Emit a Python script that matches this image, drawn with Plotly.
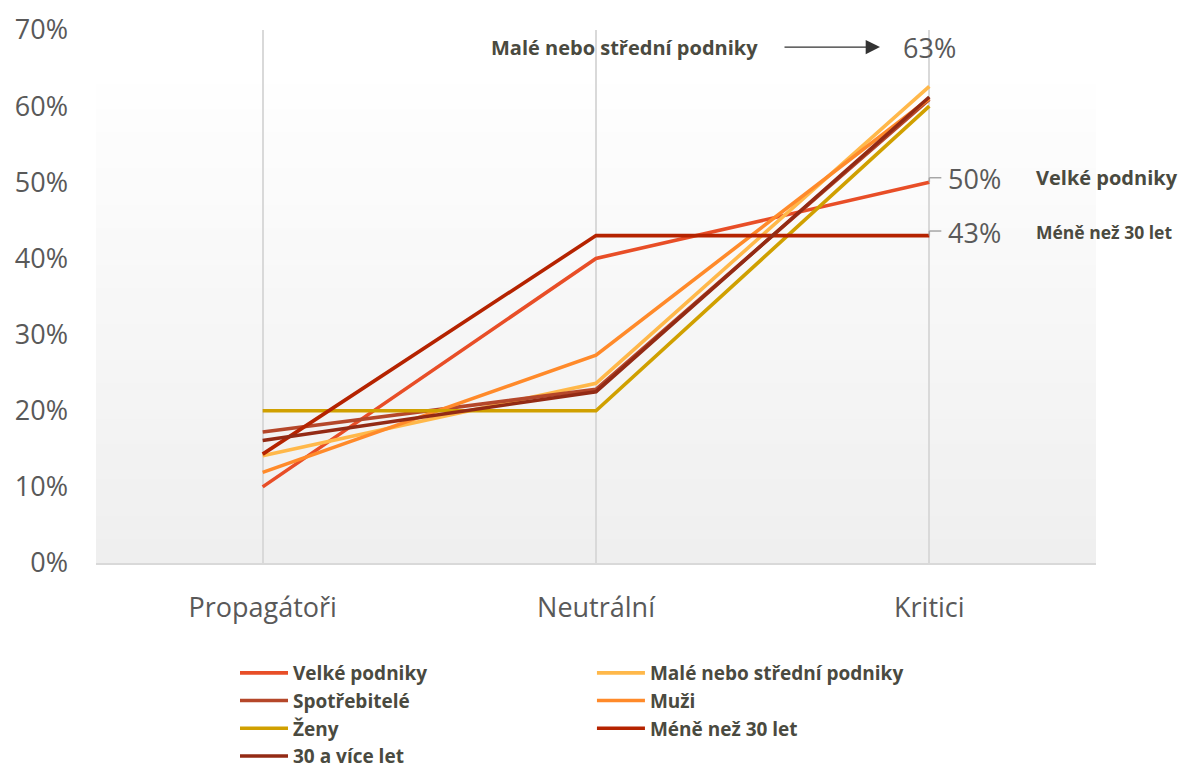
import plotly.graph_objects as go

categories = ["Propagátoři", "Neutrální", "Kritici"]
series_names = ["Velké podniky", "Malé nebo střední podniky", "Spotřebitelé", "Muži",
                "Ženy", "Méně než 30 let", "30 a více let"]
velke = [0.100, 0.400, 0.500]
male = [0.141, 0.236, 0.626]
spotrebitele = [0.172, 0.228, 0.609]
muzi = [0.119, 0.273, 0.610]
zeny = [0.200, 0.200, 0.600]
mene30 = [0.143, 0.430, 0.430]
nad30 = [0.161, 0.225, 0.612]
series_values = [velke, male, spotrebitele, muzi, zeny, mene30, nad30]
colors = ["#E84E27", "#FFB84A", "#B5472A", "#FF8A2A", "#D0A000", "#B52300", "#932A14"]
legend_ids = ["legend", "legend2", "legend", "legend2", "legend", "legend2", "legend"]
y_ticks = [0, 0.1, 0.2, 0.3, 0.4, 0.5, 0.6, 0.7]

fig = go.Figure()
for name, vals, col, lg in zip(series_names, series_values, colors, legend_ids):
    fig.add_trace(go.Scatter(x=categories, y=vals, mode="lines", name=name,
                             line=dict(color=col, width=3.6), legend=lg))

# background gradient (plot area fill)
n = 40
top = 0.897
for i in range(n):
    t = i / (n - 1)
    c = int(round(0xEF + (0xFE - 0xEF) * t))
    fig.add_shape(type="rect", xref="paper", yref="paper", x0=0, x1=1,
                  y0=top * i / n, y1=top * (i + 1) / n + 0.002,
                  fillcolor=f"rgb({c},{c},{c})", line_width=0, layer="below")

label_font = dict(family="Open Sans", size=27, color="#595959")
bold_font = dict(family="Open Sans", size=20, color="#4a4a40", weight="bold")
legend_font = dict(family="Open Sans", size=19, color="#4a4a40", weight="bold")

# right labels
for vals, name, ysh, fs in [(velke, "Velké podniky", 4, 20), (mene30, "Méně než 30 let", 3, 17.5)]:
    v = vals[2]
    fig.add_annotation(x=2, y=v, xref="x", yref="y", text=f"{v:.0%}", showarrow=False,
                       xanchor="left", yanchor="middle", xshift=17, yshift=ysh, font=label_font)
    fig.add_annotation(x=2, y=v, xref="x", yref="y", text=f"<b>{name}</b>", showarrow=False,
                       xanchor="left", yanchor="middle", xshift=105, yshift=ysh + 1,
                       font=dict(bold_font, size=fs))
    fig.add_shape(type="line", xref="x", yref="y", x0=2, x1=2, y0=v, y1=v + 0.006,
                  line=dict(color="#a6a6a6", width=1.5))
    fig.add_shape(type="line", xref="x", yref="y", x0=2, x1=2.036, y0=v + 0.006, y1=v + 0.006,
                  line=dict(color="#a6a6a6", width=1.5))

# top annotation
fig.add_annotation(x=2, y=0.968, xref="x", yref="paper", text=f"{male[2]:.0%}",
                   showarrow=False, xanchor="center", yanchor="middle", font=label_font)
fig.add_annotation(x=0.664, y=0.968, xref="paper", yref="paper", xanchor="right",
                   yanchor="middle", text="<b>Malé nebo střední podniky</b>",
                   showarrow=False, font=bold_font)
fig.add_annotation(x=0.784, y=0.968, xref="paper", yref="paper", ax=-97, ay=0,
                   text="", showarrow=True, arrowhead=2, arrowsize=2.2, arrowwidth=1.3,
                   arrowcolor="#333333")

fig.update_layout(
    width=1191, height=762,
    margin=dict(l=88, r=103, t=22, b=207, autoexpand=False),
    paper_bgcolor="white", plot_bgcolor="rgba(0,0,0,0)",
    font=dict(family="Open Sans", color="#595959"),
    legend=dict(x=0.1906, y=0.1522, xref="container", yref="container",
                xanchor="left", yanchor="top", font=legend_font, itemwidth=48,
                bgcolor="rgba(0,0,0,0)", tracegroupgap=0),
    legend2=dict(x=0.4903, y=0.1522, xref="container", yref="container",
                 xanchor="left", yanchor="top", font=legend_font, itemwidth=48,
                 bgcolor="rgba(0,0,0,0)", tracegroupgap=0),
    showlegend=True,
)
fig.update_xaxes(type="category", range=[-0.5, 2.5], showgrid=True, gridcolor="#d9d9d9",
                 gridwidth=1.5, showline=True, linecolor="#d9d9d9", linewidth=2,
                 ticks="", tickfont=dict(family="Open Sans", size=27, color="#595959"),
                 ticklabelstandoff=20, zeroline=False, automargin=False)
fig.update_yaxes(range=[0, 0.7], tickvals=y_ticks, tickformat=".0%", showgrid=False,
                 zeroline=False, showline=False, ticks="",
                 tickfont=dict(family="Open Sans", size=27, color="#595959"),
                 ticklabelstandoff=27, automargin=False)

fig.write_html("out.html")
